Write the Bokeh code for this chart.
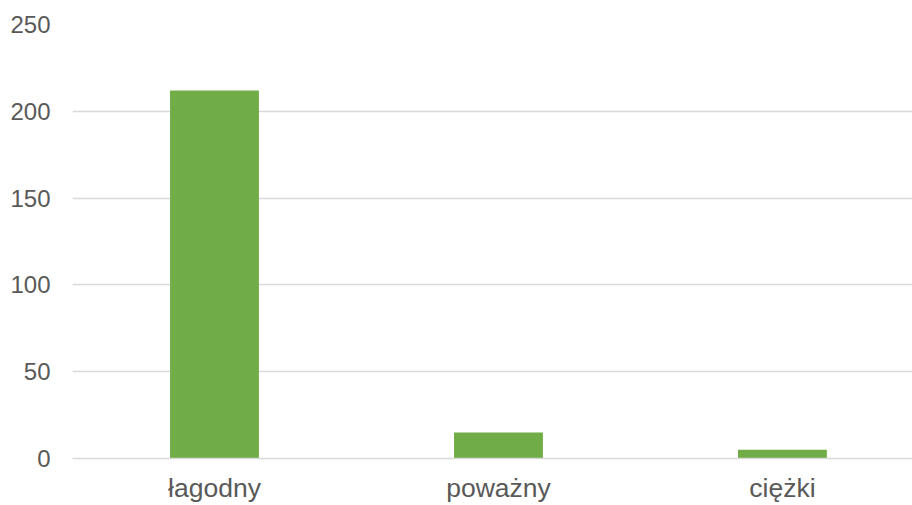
from bokeh.plotting import figure
from bokeh.models import Range1d, FixedTicker, ColumnDataSource
from bokeh.embed import file_html
from bokeh.resources import INLINE

categories = ["łagodny", "poważny", "ciężki"]
values = [212, 15, 5]
y_ticks = [0, 50, 100, 150, 200, 250]

x_pos = [i + 0.5 for i in range(len(categories))]
src = ColumnDataSource(dict(x=x_pos, top=values))

p = figure(width=912, height=505, output_backend="svg", toolbar_location=None,
           x_range=Range1d(0, 2.958), y_range=Range1d(0, 250))
p.min_border_left = 72
p.min_border_right = 0
p.min_border_top = 24
p.min_border_bottom = 40
p.outline_line_color = None
p.background_fill_color = "white"
p.border_fill_color = "white"

p.vbar(x="x", top="top", width=0.313, bottom=0, source=src,
       fill_color="#70AD47", line_color=None)

p.xgrid.grid_line_color = None
p.ygrid.grid_line_color = "#D9D9D9"
p.ygrid.grid_line_width = 1.5
p.ygrid.ticker = FixedTicker(ticks=y_ticks)

p.yaxis.ticker = FixedTicker(ticks=y_ticks)
p.yaxis.axis_line_color = None
p.yaxis.major_tick_line_color = None
p.yaxis.minor_tick_line_color = None
p.yaxis.major_tick_out = 0
p.yaxis.minor_tick_out = 0
p.yaxis.major_label_text_font = "Liberation Sans"
p.yaxis.major_label_text_font_size = "24px"
p.yaxis.major_label_text_color = "#595959"
p.yaxis.major_label_standoff = 22

p.xaxis.ticker = FixedTicker(ticks=x_pos)
p.xaxis.major_label_overrides = {x: c for x, c in zip(x_pos, categories)}
p.xaxis.axis_line_color = "#D9D9D9"
p.xaxis.axis_line_width = 1.5
p.xaxis.major_tick_line_color = None
p.xaxis.minor_tick_line_color = None
p.xaxis.major_tick_out = 0
p.xaxis.minor_tick_out = 0
p.xaxis.major_label_text_font = "Liberation Sans"
p.xaxis.major_label_text_font_size = "26.5px"
p.xaxis.major_label_text_color = "#595959"
p.xaxis.major_label_standoff = 14

open("out.html", "w").write(file_html(p, INLINE))
